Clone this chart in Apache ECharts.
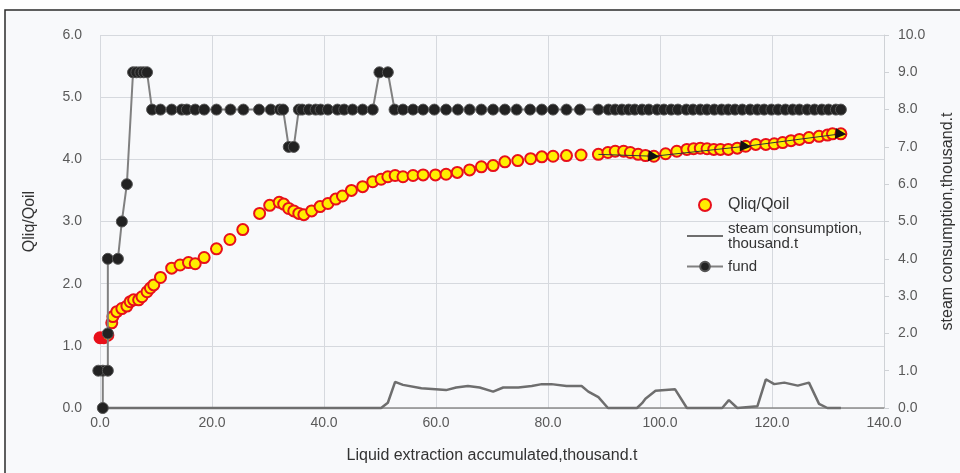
<!DOCTYPE html>
<html>
<head>
<meta charset="utf-8">
<script src="https://cdn.jsdelivr.net/npm/echarts@6/dist/echarts.min.js"></script>
<style>
  html, body { margin: 0; padding: 0; background: #fff; }
  #chart { width: 960px; height: 473px; }
</style>
</head>
<body>
<div id="chart"></div>
<script>
// Qliq/Qoil vs accumulated liquid, [x, value]
const qliqData = [
  [0.0,1.13],[0.7,1.13],[1.4,1.17],[2.1,1.37],[2.3,1.47],[3.0,1.55],[3.9,1.60],[4.8,1.64],
  [5.4,1.71],[6.0,1.74],[6.9,1.74],[7.5,1.79],[8.4,1.87],[9.0,1.93],[9.6,1.98],[10.8,2.10],
  [12.8,2.25],[14.3,2.30],[15.8,2.34],[17.0,2.32],[18.6,2.42],[20.8,2.56],[23.2,2.71],[25.5,2.87],
  [28.5,3.13],[30.3,3.26],[32.0,3.31],[32.8,3.28],[33.7,3.21],[34.6,3.17],[35.5,3.13],[36.4,3.11],
  [37.8,3.17],[39.3,3.24],[40.7,3.29],[42.1,3.36],[43.3,3.41],[44.9,3.50],[46.9,3.56],[48.7,3.64],
  [50.2,3.68],[51.4,3.72],[52.7,3.74],[54.1,3.72],[55.9,3.74],[57.7,3.75],[59.9,3.75],[61.8,3.76],
  [63.8,3.79],[66.0,3.83],[68.1,3.88],[70.2,3.90],[72.3,3.96],[74.6,3.98],[76.9,4.01],[78.9,4.04],
  [80.9,4.05],[83.3,4.06],[85.9,4.07],[89.0,4.08],[90.7,4.11],[92.0,4.13],[93.5,4.13],[94.7,4.11],
  [96.1,4.08],[97.4,4.06],[98.9,4.05],[101.0,4.09],[103.0,4.13],[104.8,4.16],[106.0,4.17],[107.2,4.18],
  [108.4,4.17],[109.6,4.16],[110.8,4.16],[112.2,4.16],[113.8,4.18],[115.3,4.21],[117.1,4.24],[118.9,4.24],
  [120.4,4.25],[121.9,4.27],[123.4,4.30],[124.9,4.32],[126.6,4.35],[128.4,4.37],[129.9,4.39],[130.8,4.41],
  [132.3,4.41]
];

// steam consumption, thousand.t (right axis)
const steamData = [
  [0,0],[50.2,0],[51.4,0.14],[52.7,0.70],[54.1,0.62],[57.4,0.53],[61.8,0.48],[63.6,0.55],
  [65.7,0.59],[67.8,0.55],[70.2,0.44],[72.0,0.55],[74.7,0.55],[77.1,0.59],[78.9,0.64],[80.6,0.64],
  [83.3,0.59],[86.0,0.59],[87.2,0.44],[89.0,0.29],[90.7,0],[95.9,0],[96.8,0.13],[97.4,0.25],
  [99.2,0.46],[102.7,0.50],[104.8,0],[111.1,0],[112.3,0.21],[113.8,0],[117.4,0.05],[118.9,0.77],
  [120.4,0.64],[122.2,0.68],[124.6,0.60],[126.6,0.68],[128.4,0.11],[129.9,0],[132.3,0]
];

// fund (right axis)
const fundData = [
  [0.5,0],[0.5,1],[-0.3,1],[1.4,1],[1.4,2],[1.4,4],[3.2,4],[3.9,5],[4.8,6],
  [5.9,9],[6.5,9],[7.2,9],[7.8,9],[8.4,9],
  [9.3,8],[10.8,8],[12.8,8],[14.6,8],[15.5,8],[17.0,8],[18.6,8],[20.8,8],[23.3,8],[25.6,8],
  [28.4,8],[30.5,8],[32.1,8],[32.7,8],
  [33.7,7],[34.6,7],
  [35.5,8],[36.1,8],[37.3,8],[38.5,8],[39.4,8],[40.7,8],[42.4,8],[43.6,8],[45.1,8],[46.9,8],[48.7,8],
  [49.9,9],[51.4,9],
  [52.6,8],[54.1,8],[55.9,8],[57.7,8],[59.7,8],[61.8,8],[63.9,8],[66.0,8],[68.1,8],[70.2,8],
  [72.3,8],[74.4,8],[76.8,8],[78.9,8],[80.9,8],[83.3,8],[85.7,8],[89.0,8],[90.8,8],[92.0,8],
  [93.2,8],[94.4,8],[95.5,8],[96.8,8],[98.0,8],[99.5,8],[100.7,8],[102.0,8],[103.2,8],[104.7,8],
  [105.9,8],[107.2,8],[108.4,8],[109.7,8],[111.0,8],[112.2,8],[113.4,8],[114.7,8],[116.1,8],[117.4,8],
  [118.6,8],[119.9,8],[121.1,8],[122.4,8],[123.7,8],[124.9,8],[126.3,8],[127.6,8],[128.9,8],[130.1,8],
  [131.4,8],[132.3,8]
];

// thin arrow line over the late Qliq points
const arrowData = [[89.0,4.08],[98.9,4.05],[115.3,4.21],[132.3,4.41]];

const leftTicks = [0, 6, 1];
const rightTicks = [0, 10, 1];
const xTicks = [0, 140, 20];

let chartDom = document.getElementById('chart');
let myChart = echarts.init(chartDom);

const fontFamily = '"Liberation Sans", Arial, sans-serif';
const labelStyle = { color: '#595959', fontSize: 14, fontFamily: fontFamily,
  formatter: function (v) { return v.toFixed(1); } };

let option = {
  backgroundColor: '#ffffff',
  animation: false,
  textStyle: { fontFamily: fontFamily },
  graphic: [{
    type: 'rect',
    z: -100,
    silent: true,
    shape: { x: 5, y: 10, width: 960, height: 470 },
    style: { fill: '#f8f9fb', stroke: '#2b2b2b', lineWidth: 1.5 }
  }],
  grid: { left: 100, right: 76, top: 35, bottom: 65, outerBoundsMode: 'none', containLabel: false },
  legend: {
    orient: 'vertical',
    left: 681,
    top: 192,
    itemWidth: 36,
    itemHeight: 12,
    itemGap: 8,
    data: [
      { name: 'Qliq/Qoil', textStyle: { fontSize: 16 } },
      { name: 'steam consumption, thousand.t', itemStyle: { opacity: 0 } },
      { name: 'fund' }
    ],
    formatter: function (name) {
      return name === 'steam consumption, thousand.t' ? 'steam consumption,\nthousand.t' : name;
    },
    textStyle: { color: '#333', fontSize: 15, lineHeight: 15, fontFamily: fontFamily }
  },
  xAxis: {
    type: 'value',
    min: xTicks[0], max: xTicks[1], interval: xTicks[2],
    name: 'Liquid extraction accumulated,thousand.t',
    nameLocation: 'middle',
    nameGap: 40,
    nameTextStyle: { color: '#333', fontSize: 16 },
    axisLine: { lineStyle: { color: '#8a8a8a', width: 1.5 } },
    axisTick: { show: false },
    axisLabel: labelStyle,
    splitLine: { lineStyle: { color: '#d6d9de' } }
  },
  yAxis: [{
    type: 'value',
    min: leftTicks[0], max: leftTicks[1], interval: leftTicks[2],
    name: 'Qliq/Qoil',
    nameLocation: 'middle',
    nameGap: 62,
    nameTextStyle: { color: '#333', fontSize: 16 },
    axisLine: { show: false },
    axisTick: { show: false },
    axisLabel: Object.assign({ margin: 18 }, labelStyle),
    splitLine: { lineStyle: { color: '#d6d9de' } }
  }, {
    type: 'value',
    min: rightTicks[0], max: rightTicks[1], interval: rightTicks[2],
    name: 'steam consumption,thousand.t',
    nameLocation: 'middle',
    nameGap: 56,
    nameRotate: 90,
    nameTextStyle: { color: '#333', fontSize: 16 },
    axisLine: { show: true, lineStyle: { color: '#cfd2d6' } },
    axisTick: { show: true, length: 5, lineStyle: { color: '#cfd2d6' } },
    axisLabel: Object.assign({ margin: 14 }, labelStyle),
    splitLine: { show: false }
  }],
  series: [
    {
      name: 'steam consumption, thousand.t',
      type: 'line',
      yAxisIndex: 1,
      symbol: 'none',
      clip: false,
      lineStyle: { color: '#6e6e6e', width: 2.5 },
      itemStyle: { color: '#6e6e6e' },
      data: steamData
    },
    {
      name: 'fund',
      type: 'line',
      yAxisIndex: 1,
      symbol: 'circle',
      symbolSize: 11,
      clip: false,
      lineStyle: { color: '#808080', width: 2 },
      itemStyle: { color: '#222', borderColor: '#555', borderWidth: 1 },
      data: fundData
    },
    {
      name: 'Qliq/Qoil',
      type: 'scatter',
      yAxisIndex: 0,
      symbolSize: 11,
      clip: false,
      itemStyle: { color: '#ffee00', borderColor: '#e8101a', borderWidth: 2, opacity: 1 },
      data: qliqData.map(function (p, i) {
        return i < 2 ? { value: p, itemStyle: { color: '#e8101a' } } : p;
      })
    },
    {
      name: 'arrow',
      type: 'line',
      yAxisIndex: 0,
      symbol: 'triangle',
      symbolSize: 11,
      symbolRotate: -95,
      lineStyle: { color: '#333', width: 1 },
      itemStyle: { color: '#111' },
      z: 5,
      data: arrowData.map(function (p, i) {
        return i === 0 ? { value: p, symbol: 'none' } : p;
      })
    }
  ]
};

myChart.setOption(option);
</script>
</body>
</html>
